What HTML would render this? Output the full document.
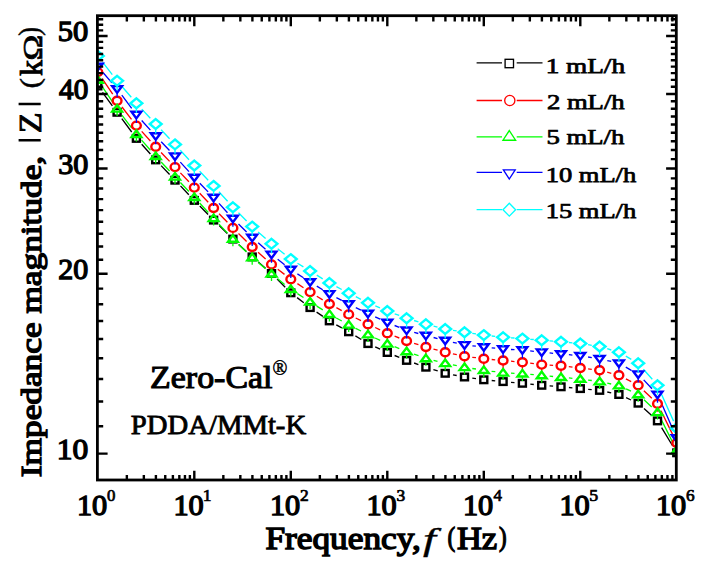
<!DOCTYPE html>
<html><head><meta charset="utf-8"><style>
html,body{margin:0;padding:0;background:#fff;width:704px;height:570px;overflow:hidden}
svg{display:block}
text{font-family:"Liberation Serif",serif}
</style></head><body>
<svg width="704" height="570" viewBox="0 0 704 570">
<defs><clipPath id="clip"><rect x="97.4" y="15.7" width="578.9" height="464.3"/></clipPath></defs>
<g clip-path="url(#clip)">
<path d="M102.5 92.4L112.4 105.9M121.8 118.7L131.7 132.0M141.7 144.3L150.4 154.0M161.1 165.6L169.6 174.5M180.5 185.9L188.8 194.7M199.8 206.0L208.1 214.5M219.2 225.6L227.3 233.6M238.7 244.5L246.4 251.5M258.2 262.1L265.5 268.3M277.1 279.1L285.2 287.2M297.1 297.6L303.8 302.8M316.6 312.1L322.9 316.4M336.3 324.8L341.8 327.9M355.4 335.9L361.3 339.5M375.2 346.9L380.1 349.2M394.6 355.5L399.3 357.4M414.1 363.0L418.4 364.6M433.4 369.6L437.7 370.9M453.0 374.8L456.7 375.5M472.3 378.1L476.0 378.7M491.7 380.5L495.2 380.9M511.0 382.3L514.5 382.6M530.3 384.1L533.8 384.5M549.6 385.9L553.1 386.2M568.9 387.5L572.4 387.9M588.2 389.3L591.7 389.7M607.3 392.0L611.2 392.9M626.1 397.7L631.0 400.0M644.0 408.5L651.7 415.6M661.6 427.7L672.7 446.0" fill="none" stroke="#000000" stroke-width="1.35"/>
<path d="M102.2 78.7L112.7 94.2M122.0 107.0L131.5 119.4M141.7 131.4L150.4 141.0M161.1 152.5L169.6 161.4M180.4 172.9L188.9 181.8M199.7 193.3L208.2 202.3M219.1 213.7L227.4 222.2M238.5 233.5L246.6 241.4M258.1 252.3L265.6 259.1M277.8 269.2L284.5 274.4M297.4 283.6L303.5 287.7M316.8 296.2L322.7 299.9M336.4 307.7L341.7 310.7M355.7 318.0L361.0 320.6M375.2 327.5L380.1 329.9M394.6 336.2L399.3 338.0M414.1 343.3L418.4 344.7M433.5 349.1L437.6 350.2M452.9 353.9L456.8 354.6M472.3 357.3L476.0 357.7M491.7 359.5L495.2 359.8M511.0 361.2L514.5 361.6M530.2 363.2L533.9 363.7M549.6 365.1L553.1 365.3M568.8 366.7L572.5 367.1M588.1 368.9L591.8 369.3M607.2 372.2L611.3 373.3M625.9 378.9L631.2 381.7M643.9 390.8L651.8 398.2M661.0 410.8L673.3 435.9" fill="none" stroke="#ff0000" stroke-width="1.35"/>
<path d="M102.2 86.6L112.7 102.2M121.9 115.1L131.6 127.9M141.6 140.1L150.5 150.3M161.1 162.0L169.6 171.0M180.4 182.5L188.9 191.5M199.6 203.0L208.3 212.5M219.0 224.1L227.5 233.1M238.6 244.4L246.5 251.9M258.2 262.5L265.5 268.7M277.7 278.7L284.6 284.4M297.4 293.6L303.5 297.5M316.7 306.1L322.8 309.9M336.3 318.0L341.8 321.0M355.7 328.4L361.0 331.0M375.1 338.0L380.2 340.4M394.6 346.7L399.3 348.6M414.0 354.2L418.5 355.7M433.6 360.3L437.5 361.4M452.9 364.9L456.8 365.7M472.3 368.5L476.0 369.0M491.6 371.3L495.3 371.7M511.0 373.2L514.5 373.3M530.3 374.4L533.8 374.7M549.6 376.1L553.1 376.5M568.9 377.9L572.4 378.3M588.1 380.1L591.8 380.5M607.3 383.2L611.2 384.0M626.1 388.9L631.0 391.1M644.0 399.8L651.7 406.9M661.1 419.3L673.2 443.4" fill="none" stroke="#00ff00" stroke-width="1.35"/>
<path d="M103.0 72.5L111.9 82.9M121.8 95.2L131.7 108.3M141.7 120.5L150.4 130.1M161.2 141.7L169.5 150.5M180.3 162.1L189.0 171.6M199.8 183.2L208.1 191.9M219.0 203.4L227.5 212.7M238.5 224.1L246.6 232.0M258.2 242.8L265.5 249.2M277.7 259.3L284.6 264.7M297.4 273.9L303.5 277.7M316.8 286.1L322.7 289.8M336.4 297.6L341.7 300.4M355.8 307.6L360.9 310.1M375.2 316.9L380.1 319.2M394.6 325.5L399.3 327.3M414.2 332.4L418.3 333.5M433.6 337.5L437.5 338.6M452.9 342.3L456.8 343.1M472.4 345.8L475.9 346.1M491.7 347.9L495.2 348.2M511.0 349.5L514.5 349.6M530.2 350.9L533.9 351.3M549.6 352.9L553.1 353.3M568.9 354.7L572.4 355.1M588.1 357.0L591.8 357.6M607.3 360.6L611.2 361.4M625.8 367.1L631.3 370.3M643.7 379.9L652.0 388.7M660.7 401.6L673.6 430.9" fill="none" stroke="#0000ff" stroke-width="1.35"/>
<path d="M102.6 62.1L112.3 74.6M122.2 86.8L131.3 97.3M141.8 109.1L150.3 118.2M161.1 129.7L169.6 138.7M180.3 150.2L189.0 159.7M199.7 171.2L208.2 180.2M218.9 191.8L227.6 201.3M238.5 212.8L246.6 221.0M258.1 231.9L265.6 238.5M277.7 248.7L284.6 254.2M297.5 263.2L303.4 266.9M316.8 275.2L322.7 278.8M336.4 286.7L341.7 289.5M355.8 296.7L360.9 299.3M375.3 305.9L380.0 307.9M394.7 313.8L399.2 315.4M414.1 320.5L418.4 321.9M433.6 326.1L437.5 327.1M453.0 330.3L456.7 330.9M472.3 333.4L476.0 333.9M491.7 336.0L495.2 336.3M511.0 337.8L514.5 338.0M530.3 339.3L533.8 339.5M549.6 340.9L553.1 341.1M568.9 342.5L572.4 342.8M588.1 344.7L591.8 345.3M607.2 348.7L611.3 350.0M625.8 356.1L631.3 359.3M643.4 369.2L652.3 379.3M660.7 392.5L673.6 421.1" fill="none" stroke="#00ffff" stroke-width="1.35"/>
<path d="" stroke="#000000" stroke-width="1.3" fill="none"/>
<g fill="none" stroke="#000000" stroke-width="2.4">
<rect x="94.3" y="82.7" width="7.0" height="6.6"/>
<rect x="113.6" y="109.0" width="7.0" height="6.6"/>
<rect x="132.9" y="135.1" width="7.0" height="6.6"/>
<rect x="152.2" y="156.6" width="7.0" height="6.6"/>
<rect x="171.5" y="176.9" width="7.0" height="6.6"/>
<rect x="190.8" y="197.1" width="7.0" height="6.6"/>
<rect x="210.1" y="216.8" width="7.0" height="6.6"/>
<rect x="229.4" y="235.8" width="7.0" height="6.6"/>
<rect x="248.7" y="253.6" width="7.0" height="6.6"/>
<rect x="268.0" y="270.2" width="7.0" height="6.6"/>
<rect x="287.3" y="289.5" width="7.0" height="6.6"/>
<rect x="306.6" y="304.3" width="7.0" height="6.6"/>
<rect x="325.9" y="317.6" width="7.0" height="6.6"/>
<rect x="345.2" y="328.5" width="7.0" height="6.6"/>
<rect x="364.5" y="340.3" width="7.0" height="6.6"/>
<rect x="383.8" y="349.2" width="7.0" height="6.6"/>
<rect x="403.1" y="357.1" width="7.0" height="6.6"/>
<rect x="422.4" y="363.9" width="7.0" height="6.6"/>
<rect x="441.7" y="370.0" width="7.0" height="6.6"/>
<rect x="461.0" y="373.7" width="7.0" height="6.6"/>
<rect x="480.3" y="376.5" width="7.0" height="6.6"/>
<rect x="499.6" y="378.3" width="7.0" height="6.6"/>
<rect x="518.9" y="380.0" width="7.0" height="6.6"/>
<rect x="538.2" y="382.0" width="7.0" height="6.6"/>
<rect x="557.5" y="383.5" width="7.0" height="6.6"/>
<rect x="576.8" y="385.3" width="7.0" height="6.6"/>
<rect x="596.1" y="387.1" width="7.0" height="6.6"/>
<rect x="615.4" y="391.2" width="7.0" height="6.6"/>
<rect x="634.7" y="399.9" width="7.0" height="6.6"/>
<rect x="654.0" y="417.6" width="7.0" height="6.6"/>
<rect x="673.3" y="449.5" width="7.0" height="6.6"/>
</g>
<path d="M97.8 76.1V80.1M117.1 104.8V108.8M136.4 129.6V133.6M155.7 150.8V154.8M175.0 171.1V175.1M194.3 191.6V195.6M213.6 212.0V216.0M232.9 231.9V235.9M252.2 251.0V255.0M271.5 268.4V272.4M290.8 283.2V287.2M310.1 296.1V300.1M329.4 308.0V312.0M348.7 318.4V322.4M368.0 328.2V332.2M387.3 337.2V341.2M406.6 345.0V349.0M425.9 351.0V355.0M445.2 356.3V360.3M464.5 360.2V364.2M483.8 362.8V366.8M503.1 364.5V368.5M522.4 366.3V370.3M541.7 368.6V372.6M561.0 369.8V373.8M580.3 372.0V376.0M599.6 374.2V378.2M618.9 379.3V383.3M638.2 389.3V393.3M657.5 407.7V411.7M676.8 447.0V451.0" stroke="#ff0000" stroke-width="1.3" fill="none"/>
<g fill="none" stroke="#ff0000" stroke-width="2.4">
<ellipse cx="97.8" cy="72.1" rx="4.4" ry="4.0"/>
<ellipse cx="117.1" cy="100.8" rx="4.4" ry="4.0"/>
<ellipse cx="136.4" cy="125.6" rx="4.4" ry="4.0"/>
<ellipse cx="155.7" cy="146.8" rx="4.4" ry="4.0"/>
<ellipse cx="175.0" cy="167.1" rx="4.4" ry="4.0"/>
<ellipse cx="194.3" cy="187.6" rx="4.4" ry="4.0"/>
<ellipse cx="213.6" cy="208.0" rx="4.4" ry="4.0"/>
<ellipse cx="232.9" cy="227.9" rx="4.4" ry="4.0"/>
<ellipse cx="252.2" cy="247.0" rx="4.4" ry="4.0"/>
<ellipse cx="271.5" cy="264.4" rx="4.4" ry="4.0"/>
<ellipse cx="290.8" cy="279.2" rx="4.4" ry="4.0"/>
<ellipse cx="310.1" cy="292.1" rx="4.4" ry="4.0"/>
<ellipse cx="329.4" cy="304.0" rx="4.4" ry="4.0"/>
<ellipse cx="348.7" cy="314.4" rx="4.4" ry="4.0"/>
<ellipse cx="368.0" cy="324.2" rx="4.4" ry="4.0"/>
<ellipse cx="387.3" cy="333.2" rx="4.4" ry="4.0"/>
<ellipse cx="406.6" cy="341.0" rx="4.4" ry="4.0"/>
<ellipse cx="425.9" cy="347.0" rx="4.4" ry="4.0"/>
<ellipse cx="445.2" cy="352.3" rx="4.4" ry="4.0"/>
<ellipse cx="464.5" cy="356.2" rx="4.4" ry="4.0"/>
<ellipse cx="483.8" cy="358.8" rx="4.4" ry="4.0"/>
<ellipse cx="503.1" cy="360.5" rx="4.4" ry="4.0"/>
<ellipse cx="522.4" cy="362.3" rx="4.4" ry="4.0"/>
<ellipse cx="541.7" cy="364.6" rx="4.4" ry="4.0"/>
<ellipse cx="561.0" cy="365.8" rx="4.4" ry="4.0"/>
<ellipse cx="580.3" cy="368.0" rx="4.4" ry="4.0"/>
<ellipse cx="599.6" cy="370.2" rx="4.4" ry="4.0"/>
<ellipse cx="618.9" cy="375.3" rx="4.4" ry="4.0"/>
<ellipse cx="638.2" cy="385.3" rx="4.4" ry="4.0"/>
<ellipse cx="657.5" cy="403.7" rx="4.4" ry="4.0"/>
<ellipse cx="676.8" cy="443.0" rx="4.4" ry="4.0"/>
</g>
<path d="M97.8 82.8V87.3M117.1 111.6V116.1M136.4 137.0V141.5M155.7 159.0V163.5M175.0 179.6V184.1M194.3 200.0V204.5M213.6 221.1V225.6M232.9 241.7V246.2M252.2 260.2V264.7M271.5 276.6V281.1M290.8 292.1V296.6M310.1 304.6V309.1M329.4 317.0V321.5M348.7 327.6V332.1M368.0 337.4V341.9M387.3 346.6V351.1M406.6 354.3V358.8M425.9 361.2V365.7M445.2 366.1V370.6M464.5 370.1V374.6M483.8 373.0V377.5M503.1 375.6V380.1M522.4 376.5V381.0M541.7 378.2V382.7M561.0 380.0V384.5M580.3 381.8V386.3M599.6 384.4V388.9M618.9 388.4V392.9M638.2 397.2V401.7M657.5 415.1V419.6M676.8 453.2V457.7" stroke="#00ff00" stroke-width="1.3" fill="none"/>
<g fill="none" stroke="#00ff00" stroke-width="2.4">
<path d="M97.8 76.2L102.7 82.8L92.9 82.8Z"/>
<path d="M117.1 105.0L122.0 111.6L112.2 111.6Z"/>
<path d="M136.4 130.4L141.3 137.0L131.5 137.0Z"/>
<path d="M155.7 152.4L160.6 159.0L150.8 159.0Z"/>
<path d="M175.0 173.0L179.9 179.6L170.1 179.6Z"/>
<path d="M194.3 193.4L199.2 200.0L189.4 200.0Z"/>
<path d="M213.6 214.5L218.5 221.1L208.7 221.1Z"/>
<path d="M232.9 235.1L237.8 241.7L228.0 241.7Z"/>
<path d="M252.2 253.6L257.1 260.2L247.3 260.2Z"/>
<path d="M271.5 270.0L276.4 276.6L266.6 276.6Z"/>
<path d="M290.8 285.5L295.7 292.1L285.9 292.1Z"/>
<path d="M310.1 298.0L315.0 304.6L305.2 304.6Z"/>
<path d="M329.4 310.4L334.3 317.0L324.5 317.0Z"/>
<path d="M348.7 321.0L353.6 327.6L343.8 327.6Z"/>
<path d="M368.0 330.8L372.9 337.4L363.1 337.4Z"/>
<path d="M387.3 340.0L392.2 346.6L382.4 346.6Z"/>
<path d="M406.6 347.7L411.5 354.3L401.7 354.3Z"/>
<path d="M425.9 354.6L430.8 361.2L421.0 361.2Z"/>
<path d="M445.2 359.5L450.1 366.1L440.3 366.1Z"/>
<path d="M464.5 363.5L469.4 370.1L459.6 370.1Z"/>
<path d="M483.8 366.4L488.7 373.0L478.9 373.0Z"/>
<path d="M503.1 369.0L508.0 375.6L498.2 375.6Z"/>
<path d="M522.4 369.9L527.3 376.5L517.5 376.5Z"/>
<path d="M541.7 371.6L546.6 378.2L536.8 378.2Z"/>
<path d="M561.0 373.4L565.9 380.0L556.1 380.0Z"/>
<path d="M580.3 375.2L585.2 381.8L575.4 381.8Z"/>
<path d="M599.6 377.8L604.5 384.4L594.7 384.4Z"/>
<path d="M618.9 381.8L623.8 388.4L614.0 388.4Z"/>
<path d="M638.2 390.6L643.1 397.2L633.3 397.2Z"/>
<path d="M657.5 408.5L662.4 415.1L652.6 415.1Z"/>
<path d="M676.8 446.6L681.7 453.2L671.9 453.2Z"/>
</g>
<path d="M97.8 70.3V74.8M117.1 92.7V97.2M136.4 118.4V122.9M155.7 139.8V144.3M175.0 160.0V164.5M194.3 181.3V185.8M213.6 201.4V205.9M232.9 222.3V226.8M252.2 241.4V245.9M271.5 258.2V262.7M290.8 273.4V277.9M310.1 285.8V290.3M329.4 297.7V302.2M348.7 307.9V312.4M368.0 317.4V321.9M387.3 326.3V330.8M406.6 334.1V338.6M425.9 339.4V343.9M445.2 344.3V348.8M464.5 348.7V353.2M483.8 350.8V355.3M503.1 352.9V357.4M522.4 353.8V358.3M541.7 356.0V360.5M561.0 357.8V362.3M580.3 359.6V364.1M599.6 362.6V367.1M618.9 367.0V371.5M638.2 378.0V382.5M657.5 398.2V402.7M676.8 441.9V446.4" stroke="#0000ff" stroke-width="1.3" fill="none"/>
<g fill="none" stroke="#0000ff" stroke-width="2.4">
<path d="M97.8 70.3L102.7 63.7L92.9 63.7Z"/>
<path d="M117.1 92.7L122.0 86.1L112.2 86.1Z"/>
<path d="M136.4 118.4L141.3 111.8L131.5 111.8Z"/>
<path d="M155.7 139.8L160.6 133.2L150.8 133.2Z"/>
<path d="M175.0 160.0L179.9 153.4L170.1 153.4Z"/>
<path d="M194.3 181.3L199.2 174.7L189.4 174.7Z"/>
<path d="M213.6 201.4L218.5 194.8L208.7 194.8Z"/>
<path d="M232.9 222.3L237.8 215.7L228.0 215.7Z"/>
<path d="M252.2 241.4L257.1 234.8L247.3 234.8Z"/>
<path d="M271.5 258.2L276.4 251.6L266.6 251.6Z"/>
<path d="M290.8 273.4L295.7 266.8L285.9 266.8Z"/>
<path d="M310.1 285.8L315.0 279.2L305.2 279.2Z"/>
<path d="M329.4 297.7L334.3 291.1L324.5 291.1Z"/>
<path d="M348.7 307.9L353.6 301.3L343.8 301.3Z"/>
<path d="M368.0 317.4L372.9 310.8L363.1 310.8Z"/>
<path d="M387.3 326.3L392.2 319.7L382.4 319.7Z"/>
<path d="M406.6 334.1L411.5 327.5L401.7 327.5Z"/>
<path d="M425.9 339.4L430.8 332.8L421.0 332.8Z"/>
<path d="M445.2 344.3L450.1 337.7L440.3 337.7Z"/>
<path d="M464.5 348.7L469.4 342.1L459.6 342.1Z"/>
<path d="M483.8 350.8L488.7 344.2L478.9 344.2Z"/>
<path d="M503.1 352.9L508.0 346.3L498.2 346.3Z"/>
<path d="M522.4 353.8L527.3 347.2L517.5 347.2Z"/>
<path d="M541.7 356.0L546.6 349.4L536.8 349.4Z"/>
<path d="M561.0 357.8L565.9 351.2L556.1 351.2Z"/>
<path d="M580.3 359.6L585.2 353.0L575.4 353.0Z"/>
<path d="M599.6 362.6L604.5 356.0L594.7 356.0Z"/>
<path d="M618.9 367.0L623.8 360.4L614.0 360.4Z"/>
<path d="M638.2 378.0L643.1 371.4L633.3 371.4Z"/>
<path d="M657.5 398.2L662.4 391.6L652.6 391.6Z"/>
<path d="M676.8 441.9L681.7 435.3L671.9 435.3Z"/>
</g>
<path d="M97.8 60.8V65.3M117.1 85.7V90.2M136.4 108.2V112.7M155.7 128.9V133.4M175.0 149.3V153.8M194.3 170.4V174.9M213.6 190.8V195.3M232.9 212.1V216.6M252.2 231.5V236.0M271.5 248.7V253.2M290.8 264.0V268.5M310.1 275.9V280.4M329.4 287.9V292.4M348.7 298.1V302.6M368.0 307.7V312.2M387.3 315.9V320.4M406.6 323.1V327.6M425.9 329.1V333.6M445.2 333.9V338.4M464.5 337.1V341.6M483.8 340.0V344.5M503.1 342.1V346.6M522.4 343.5V348.0M541.7 345.1V349.6M561.0 346.7V351.2M580.3 348.4V352.9M599.6 351.4V355.9M618.9 357.1V361.6M638.2 368.1V372.6M657.5 390.2V394.7M676.8 433.2V437.7" stroke="#00ffff" stroke-width="1.3" fill="none"/>
<g fill="none" stroke="#00ffff" stroke-width="2.4">
<path d="M97.8 51.0L103.7 55.9L97.8 60.8L91.9 55.9Z"/>
<path d="M117.1 75.9L123.0 80.8L117.1 85.7L111.2 80.8Z"/>
<path d="M136.4 98.4L142.3 103.3L136.4 108.2L130.5 103.3Z"/>
<path d="M155.7 119.1L161.6 124.0L155.7 128.9L149.8 124.0Z"/>
<path d="M175.0 139.5L180.9 144.4L175.0 149.3L169.1 144.4Z"/>
<path d="M194.3 160.6L200.2 165.5L194.3 170.4L188.4 165.5Z"/>
<path d="M213.6 181.0L219.5 185.9L213.6 190.8L207.7 185.9Z"/>
<path d="M232.9 202.3L238.8 207.2L232.9 212.1L227.0 207.2Z"/>
<path d="M252.2 221.7L258.1 226.6L252.2 231.5L246.3 226.6Z"/>
<path d="M271.5 238.9L277.4 243.8L271.5 248.7L265.6 243.8Z"/>
<path d="M290.8 254.2L296.7 259.1L290.8 264.0L284.9 259.1Z"/>
<path d="M310.1 266.1L316.0 271.0L310.1 275.9L304.2 271.0Z"/>
<path d="M329.4 278.1L335.3 283.0L329.4 287.9L323.5 283.0Z"/>
<path d="M348.7 288.3L354.6 293.2L348.7 298.1L342.8 293.2Z"/>
<path d="M368.0 297.9L373.9 302.8L368.0 307.7L362.1 302.8Z"/>
<path d="M387.3 306.1L393.2 311.0L387.3 315.9L381.4 311.0Z"/>
<path d="M406.6 313.3L412.5 318.2L406.6 323.1L400.7 318.2Z"/>
<path d="M425.9 319.3L431.8 324.2L425.9 329.1L420.0 324.2Z"/>
<path d="M445.2 324.1L451.1 329.0L445.2 333.9L439.3 329.0Z"/>
<path d="M464.5 327.3L470.4 332.2L464.5 337.1L458.6 332.2Z"/>
<path d="M483.8 330.2L489.7 335.1L483.8 340.0L477.9 335.1Z"/>
<path d="M503.1 332.3L509.0 337.2L503.1 342.1L497.2 337.2Z"/>
<path d="M522.4 333.7L528.3 338.6L522.4 343.5L516.5 338.6Z"/>
<path d="M541.7 335.3L547.6 340.2L541.7 345.1L535.8 340.2Z"/>
<path d="M561.0 336.9L566.9 341.8L561.0 346.7L555.1 341.8Z"/>
<path d="M580.3 338.6L586.2 343.5L580.3 348.4L574.4 343.5Z"/>
<path d="M599.6 341.6L605.5 346.5L599.6 351.4L593.7 346.5Z"/>
<path d="M618.9 347.3L624.8 352.2L618.9 357.1L613.0 352.2Z"/>
<path d="M638.2 358.3L644.1 363.2L638.2 368.1L632.3 363.2Z"/>
<path d="M657.5 380.4L663.4 385.3L657.5 390.2L651.6 385.3Z"/>
<path d="M676.8 423.4L682.7 428.3L676.8 433.2L670.9 428.3Z"/>
</g>
</g>
<path d="M126.85 480.00V475.00M126.85 15.70V21.40M143.84 480.00V475.00M143.84 15.70V21.40M155.90 480.00V475.00M155.90 15.70V21.40M165.25 480.00V475.00M165.25 15.70V21.40M172.89 480.00V475.00M172.89 15.70V21.40M179.35 480.00V475.00M179.35 15.70V21.40M184.95 480.00V475.00M184.95 15.70V21.40M189.88 480.00V475.00M189.88 15.70V21.40M194.30 480.00V470.80M194.30 15.70V26.20M223.35 480.00V475.00M223.35 15.70V21.40M240.34 480.00V475.00M240.34 15.70V21.40M252.40 480.00V475.00M252.40 15.70V21.40M261.75 480.00V475.00M261.75 15.70V21.40M269.39 480.00V475.00M269.39 15.70V21.40M275.85 480.00V475.00M275.85 15.70V21.40M281.45 480.00V475.00M281.45 15.70V21.40M286.38 480.00V475.00M286.38 15.70V21.40M290.80 480.00V470.80M290.80 15.70V26.20M319.85 480.00V475.00M319.85 15.70V21.40M336.84 480.00V475.00M336.84 15.70V21.40M348.90 480.00V475.00M348.90 15.70V21.40M358.25 480.00V475.00M358.25 15.70V21.40M365.89 480.00V475.00M365.89 15.70V21.40M372.35 480.00V475.00M372.35 15.70V21.40M377.95 480.00V475.00M377.95 15.70V21.40M382.88 480.00V475.00M382.88 15.70V21.40M387.30 480.00V470.80M387.30 15.70V26.20M416.35 480.00V475.00M416.35 15.70V21.40M433.34 480.00V475.00M433.34 15.70V21.40M445.40 480.00V475.00M445.40 15.70V21.40M454.75 480.00V475.00M454.75 15.70V21.40M462.39 480.00V475.00M462.39 15.70V21.40M468.85 480.00V475.00M468.85 15.70V21.40M474.45 480.00V475.00M474.45 15.70V21.40M479.38 480.00V475.00M479.38 15.70V21.40M483.80 480.00V470.80M483.80 15.70V26.20M512.85 480.00V475.00M512.85 15.70V21.40M529.84 480.00V475.00M529.84 15.70V21.40M541.90 480.00V475.00M541.90 15.70V21.40M551.25 480.00V475.00M551.25 15.70V21.40M558.89 480.00V475.00M558.89 15.70V21.40M565.35 480.00V475.00M565.35 15.70V21.40M570.95 480.00V475.00M570.95 15.70V21.40M575.88 480.00V475.00M575.88 15.70V21.40M580.30 480.00V470.80M580.30 15.70V26.20M609.35 480.00V475.00M609.35 15.70V21.40M626.34 480.00V475.00M626.34 15.70V21.40M638.40 480.00V475.00M638.40 15.70V21.40M647.75 480.00V475.00M647.75 15.70V21.40M655.39 480.00V475.00M655.39 15.70V21.40M661.85 480.00V475.00M661.85 15.70V21.40M667.45 480.00V475.00M667.45 15.70V21.40M672.38 480.00V475.00M672.38 15.70V21.40M97.40 453.60H107.60M676.30 453.60H666.10M97.40 426.26H103.20M676.30 426.26H670.80M97.40 401.54H103.20M676.30 401.54H670.80M97.40 378.96H103.20M676.30 378.96H670.80M97.40 358.19H103.20M676.30 358.19H670.80M97.40 338.97H103.20M676.30 338.97H670.80M97.40 321.07H103.20M676.30 321.07H670.80M97.40 304.32H103.20M676.30 304.32H670.80M97.40 288.59H103.20M676.30 288.59H670.80M97.40 273.76H107.60M676.30 273.76H666.10M97.40 259.74H103.20M676.30 259.74H670.80M97.40 246.43H103.20M676.30 246.43H670.80M97.40 233.77H103.20M676.30 233.77H670.80M97.40 221.70H103.20M676.30 221.70H670.80M97.40 210.17H103.20M676.30 210.17H670.80M97.40 199.13H103.20M676.30 199.13H670.80M97.40 188.54H103.20M676.30 188.54H670.80M97.40 178.36H103.20M676.30 178.36H670.80M97.40 168.57H107.60M676.30 168.57H666.10M97.40 159.13H103.20M676.30 159.13H670.80M97.40 150.03H103.20M676.30 150.03H670.80M97.40 141.23H103.20M676.30 141.23H670.80M97.40 132.72H103.20M676.30 132.72H670.80M97.40 124.49H103.20M676.30 124.49H670.80M97.40 116.50H103.20M676.30 116.50H670.80M97.40 108.76H103.20M676.30 108.76H670.80M97.40 101.24H103.20M676.30 101.24H670.80M97.40 93.93H107.60M676.30 93.93H666.10M97.40 86.82H103.20M676.30 86.82H670.80M97.40 79.90H103.20M676.30 79.90H670.80M97.40 73.16H103.20M676.30 73.16H670.80M97.40 66.59H103.20M676.30 66.59H670.80M97.40 60.19H103.20M676.30 60.19H670.80M97.40 53.94H103.20M676.30 53.94H670.80M97.40 47.83H103.20M676.30 47.83H670.80M97.40 41.87H103.20M676.30 41.87H670.80M97.40 36.04H107.60M676.30 36.04H666.10M97.40 30.33H103.20M676.30 30.33H670.80M97.40 24.75H103.20M676.30 24.75H670.80M97.40 19.29H103.20M676.30 19.29H670.80" stroke="#000" stroke-width="2.4" fill="none"/>
<rect x="97.4" y="15.7" width="578.90" height="464.30" fill="none" stroke="#000" stroke-width="2.8"/>
<text x="56.88" y="458.70" font-size="28.5"  textLength="31.46" lengthAdjust="spacingAndGlyphs" stroke="#000" stroke-width="1.28" >10</text>
<text x="58.37" y="278.86" font-size="28.5"  textLength="29.92" lengthAdjust="spacingAndGlyphs" stroke="#000" stroke-width="1.28" >20</text>
<text x="58.21" y="173.67" font-size="28.5"  textLength="30.08" lengthAdjust="spacingAndGlyphs" stroke="#000" stroke-width="1.28" >30</text>
<text x="59.13" y="99.03" font-size="28.5"  textLength="29.12" lengthAdjust="spacingAndGlyphs" stroke="#000" stroke-width="1.28" >40</text>
<text x="57.89" y="41.14" font-size="28.5"  textLength="30.42" lengthAdjust="spacingAndGlyphs" stroke="#000" stroke-width="1.28" >50</text>
<text x="76.98" y="514.80" font-size="28.5"  textLength="30.31" lengthAdjust="spacingAndGlyphs" stroke="#000" stroke-width="1.28" >10</text>
<text x="107.12" y="501.40" font-size="16.3"  textLength="8.37" lengthAdjust="spacingAndGlyphs" stroke="#000" stroke-width="0.73" >0</text>
<text x="173.48" y="514.80" font-size="28.5"  textLength="30.31" lengthAdjust="spacingAndGlyphs" stroke="#000" stroke-width="1.28" >10</text>
<text x="202.72" y="501.40" font-size="16.3"  textLength="8.75" lengthAdjust="spacingAndGlyphs" stroke="#000" stroke-width="0.73" >1</text>
<text x="269.98" y="514.80" font-size="28.5"  textLength="30.31" lengthAdjust="spacingAndGlyphs" stroke="#000" stroke-width="1.28" >10</text>
<text x="300.01" y="501.40" font-size="16.3"  textLength="8.68" lengthAdjust="spacingAndGlyphs" stroke="#000" stroke-width="0.73" >2</text>
<text x="366.48" y="514.80" font-size="28.5"  textLength="30.31" lengthAdjust="spacingAndGlyphs" stroke="#000" stroke-width="1.28" >10</text>
<text x="396.42" y="501.40" font-size="16.3"  textLength="8.69" lengthAdjust="spacingAndGlyphs" stroke="#000" stroke-width="0.73" >3</text>
<text x="462.98" y="514.80" font-size="28.5"  textLength="30.31" lengthAdjust="spacingAndGlyphs" stroke="#000" stroke-width="1.28" >10</text>
<text x="493.46" y="501.40" font-size="16.3"  textLength="8.44" lengthAdjust="spacingAndGlyphs" stroke="#000" stroke-width="0.73" >4</text>
<text x="559.48" y="514.80" font-size="28.5"  textLength="30.31" lengthAdjust="spacingAndGlyphs" stroke="#000" stroke-width="1.28" >10</text>
<text x="589.22" y="501.40" font-size="16.3"  textLength="8.91" lengthAdjust="spacingAndGlyphs" stroke="#000" stroke-width="0.73" >5</text>
<text x="655.98" y="514.80" font-size="28.5"  textLength="30.31" lengthAdjust="spacingAndGlyphs" stroke="#000" stroke-width="1.28" >10</text>
<text x="686.02" y="501.40" font-size="16.3"  textLength="8.60" lengthAdjust="spacingAndGlyphs" stroke="#000" stroke-width="0.73" >6</text>
<g transform="rotate(-90)"><text x="-477.20" y="40.50" font-size="29.5"  textLength="321.35" lengthAdjust="spacingAndGlyphs" stroke="#000" stroke-width="1.33" >Impedance magnitude,</text><text x="-133.30" y="40.70" font-size="31"  textLength="20.81" lengthAdjust="spacingAndGlyphs" stroke="#000" stroke-width="0.9">Z</text><text x="-35.68" y="38.58" font-size="28.67"  textLength="8.71" lengthAdjust="spacingAndGlyphs" stroke="#000" stroke-width="0.5">)</text><text x="-60.63" y="41.50" font-size="27"  textLength="25.78" lengthAdjust="spacingAndGlyphs" stroke="#000" stroke-width="0.7">Ω</text><text x="-76.04" y="41.50" font-size="31.5"  textLength="15.94" lengthAdjust="spacingAndGlyphs" stroke="#000" stroke-width="0.9">k</text><text x="-88.51" y="38.50" font-size="28.35"  textLength="10.45" lengthAdjust="spacingAndGlyphs" stroke="#000" stroke-width="0.5">(</text><path d="M-104 18.6V40.7M-140.2 18.6V40.7" stroke="#000" stroke-width="2.4"/></g>
<text x="265.40" y="549.30" font-size="31"  textLength="155.57" lengthAdjust="spacingAndGlyphs" stroke="#000" stroke-width="1.40" >Frequency,</text>
<text x="423.13" y="549.80" font-size="32" font-style="italic" textLength="12.94" lengthAdjust="spacingAndGlyphs" stroke="#000" stroke-width="0.35">f</text>
<text x="447.46" y="546.32" font-size="27.8"  textLength="7.70" lengthAdjust="spacingAndGlyphs" stroke="#000" stroke-width="1.25" >(</text>
<text x="456.92" y="549.30" font-size="31"  textLength="40.29" lengthAdjust="spacingAndGlyphs" stroke="#000" stroke-width="1.40" >Hz</text>
<text x="498.92" y="546.40" font-size="28.11"  textLength="7.67" lengthAdjust="spacingAndGlyphs" stroke="#000" stroke-width="1.26" >)</text>
<text x="150.11" y="388.00" font-size="30.5"  textLength="122.35" lengthAdjust="spacingAndGlyphs" stroke="#000" stroke-width="1.05">Zero-Cal</text>
<text x="272.62" y="375.20" font-size="20.5"  textLength="14.86" lengthAdjust="spacingAndGlyphs" stroke="#000" stroke-width="0.5">®</text>
<text x="130.84" y="434.10" font-size="27"  textLength="175.30" lengthAdjust="spacingAndGlyphs" stroke="#000" stroke-width="0.8">PDDA/MMt-K</text>
<path d="M476.6 62.9H502M516.7 62.9H542.5" stroke="#000000" stroke-width="1.3"/>
<g fill="#fff" stroke="#000000" stroke-width="1.35"><rect x="505.1" y="59.3" width="8.4" height="8.4"/></g>
<text x="545.65" y="73.10" font-size="21.5"  textLength="79.40" lengthAdjust="spacingAndGlyphs" stroke="#000" stroke-width="0.75">1 mL/h</text>
<path d="M476.6 100.5H502M516.7 100.5H542.5" stroke="#ff0000" stroke-width="1.3"/>
<g fill="#fff" stroke="#ff0000" stroke-width="1.35"><circle cx="509.8" cy="100.5" r="5.1"/></g>
<text x="546.90" y="108.70" font-size="21.5"  textLength="77.74" lengthAdjust="spacingAndGlyphs" stroke="#000" stroke-width="0.75">2 mL/h</text>
<path d="M476.6 136.9H502M516.7 136.9H542.5" stroke="#00ff00" stroke-width="1.3"/>
<g fill="#fff" stroke="#00ff00" stroke-width="1.35"><path d="M509.3 130.6L515.6 140.2L503.0 140.2Z"/></g>
<text x="546.50" y="144.00" font-size="21.5"  textLength="77.84" lengthAdjust="spacingAndGlyphs" stroke="#000" stroke-width="0.75">5 mL/h</text>
<path d="M476.6 172.4H502M516.7 172.4H542.5" stroke="#0000ff" stroke-width="1.3"/>
<g fill="#fff" stroke="#0000ff" stroke-width="1.35"><path d="M509.3 179.0L515.2 169.8L503.4 169.8Z"/></g>
<text x="545.72" y="181.70" font-size="21.5"  textLength="90.52" lengthAdjust="spacingAndGlyphs" stroke="#000" stroke-width="0.75">10 mL/h</text>
<path d="M476.6 209.7H502M516.7 209.7H542.5" stroke="#00ffff" stroke-width="1.3"/>
<g fill="#fff" stroke="#00ffff" stroke-width="1.35"><path d="M509.3 203.3L515.6 209.7L509.3 216.1L503.0 209.7Z"/></g>
<text x="545.72" y="217.70" font-size="21.5"  textLength="90.52" lengthAdjust="spacingAndGlyphs" stroke="#000" stroke-width="0.75">15 mL/h</text>
</svg>
</body></html>
